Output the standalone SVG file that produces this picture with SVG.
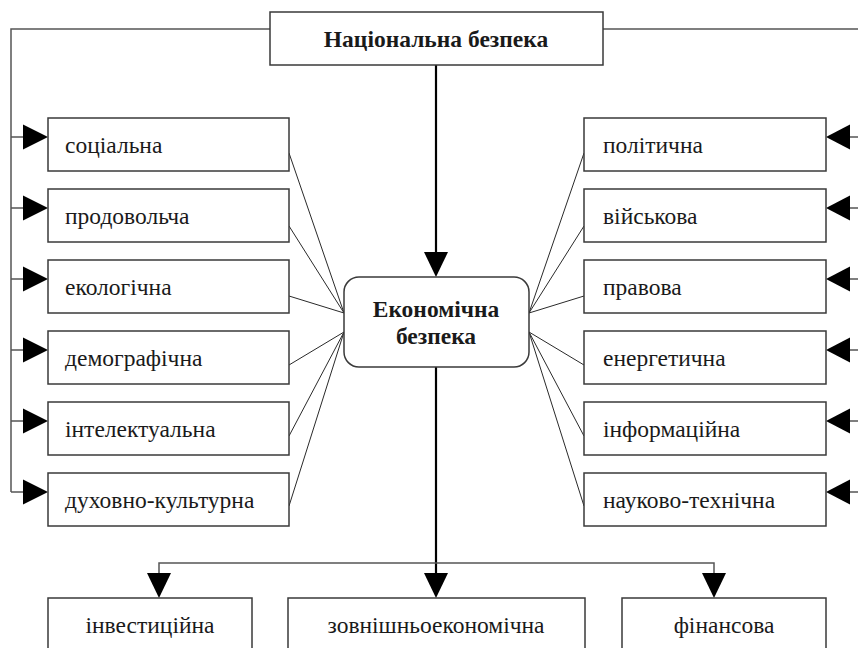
<svg xmlns="http://www.w3.org/2000/svg" width="858" height="648" viewBox="0 0 858 648">
  <style>
    .box { fill: #ffffff; stroke: #3a3a3a; stroke-width: 1.5; }
    .txt { font-family: "Liberation Serif", "Tinos", "Times New Roman", "Noto Serif", "DejaVu Serif", serif; font-size: 23.5px; fill: #1a1a1a; }
    .bold { font-weight: bold; font-size: 23.5px; }
    .feed { fill: none; stroke: #555555; stroke-width: 1.5; }
    .spoke { fill: none; stroke: #2a2a2a; stroke-width: 1; }
    .main { fill: none; stroke: #000000; stroke-width: 2.2; }
    .head { fill: #000000; stroke: none; }
  </style>
  <rect width="858" height="648" fill="#ffffff"/>

  <g id="connectors">
    <!-- feed lines from the top box down both sides -->
    <polyline class="feed" points="270,29 11,29 11,492"/>
    <polyline class="feed" points="603,29 860,29 860,492"/>
    <g class="feed">
      <line x1="11" y1="137" x2="24" y2="137"/>
      <line x1="11" y1="208" x2="24" y2="208"/>
      <line x1="11" y1="279" x2="24" y2="279"/>
      <line x1="11" y1="350" x2="24" y2="350"/>
      <line x1="11" y1="421" x2="24" y2="421"/>
      <line x1="11" y1="492" x2="24" y2="492"/>
      <line x1="849" y1="137" x2="860" y2="137"/>
      <line x1="849" y1="208" x2="860" y2="208"/>
      <line x1="849" y1="279" x2="860" y2="279"/>
      <line x1="849" y1="350" x2="860" y2="350"/>
      <line x1="849" y1="421" x2="860" y2="421"/>
      <line x1="849" y1="492" x2="860" y2="492"/>
    </g>
    <g class="head">
      <polygon points="48,137 23,124.5 23,149.5"/>
      <polygon points="48,208 23,195.5 23,220.5"/>
      <polygon points="48,279 23,266.5 23,291.5"/>
      <polygon points="48,350 23,337.5 23,362.5"/>
      <polygon points="48,421 23,408.5 23,433.5"/>
      <polygon points="48,492 23,479.5 23,504.5"/>
      <polygon points="826,137 850,124.5 850,149.5"/>
      <polygon points="826,208 850,195.5 850,220.5"/>
      <polygon points="826,279 850,266.5 850,291.5"/>
      <polygon points="826,350 850,337.5 850,362.5"/>
      <polygon points="826,421 850,408.5 850,433.5"/>
      <polygon points="826,492 850,479.5 850,504.5"/>
    </g>

    <!-- spokes joining the side boxes to the central box -->
    <g class="spoke">
      <line x1="289" y1="153" x2="344" y2="313"/>
      <line x1="289" y1="226" x2="344" y2="313"/>
      <line x1="289" y1="296" x2="344" y2="313"/>
      <line x1="289" y1="365" x2="344" y2="332"/>
      <line x1="289" y1="436" x2="344" y2="332"/>
      <line x1="289" y1="506" x2="344" y2="332"/>
      <line x1="584" y1="153" x2="529" y2="313"/>
      <line x1="584" y1="226" x2="529" y2="313"/>
      <line x1="584" y1="296" x2="529" y2="313"/>
      <line x1="584" y1="365" x2="529" y2="332"/>
      <line x1="584" y1="436" x2="529" y2="332"/>
      <line x1="584" y1="506" x2="529" y2="332"/>
    </g>

    <!-- main vertical flow -->
    <line class="main" x1="436" y1="65" x2="436" y2="253"/>
    <polygon class="head" points="436,277 424,252 448,252"/>
    <line class="main" x1="436" y1="367" x2="436" y2="574"/>
    <polygon class="head" points="436,598 424,573 448,573"/>

    <!-- branch to the lower boxes -->
    <polyline class="feed" points="159,574 159,563 714,563 714,574"/>
    <polygon class="head" points="159,598 147,573 171,573"/>
    <polygon class="head" points="714,598 702,573 726,573"/>
  </g>

  <g id="national">
    <rect class="box" x="270" y="12" width="333" height="53"/>
    <text class="txt bold" x="436" y="47" text-anchor="middle">Національна безпека</text>
  </g>

  <g id="economic">
    <rect class="box" x="344" y="277" width="185" height="90" rx="15" ry="15"/>
    <text class="txt bold" x="436" y="317" text-anchor="middle">Економічна</text>
    <text class="txt bold" x="436" y="344" text-anchor="middle">безпека</text>
  </g>

  <g id="social">
    <rect class="box" x="48" y="118" width="241" height="53"/>
    <text class="txt" x="65" y="153">соціальна</text>
  </g>
  <g id="food">
    <rect class="box" x="48" y="189" width="241" height="53"/>
    <text class="txt" x="65" y="224">продовольча</text>
  </g>
  <g id="ecological">
    <rect class="box" x="48" y="260" width="241" height="53"/>
    <text class="txt" x="65" y="295">екологічна</text>
  </g>
  <g id="demographic">
    <rect class="box" x="48" y="331" width="241" height="53"/>
    <text class="txt" x="65" y="366">демографічна</text>
  </g>
  <g id="intellectual">
    <rect class="box" x="48" y="402" width="241" height="53"/>
    <text class="txt" x="65" y="437">інтелектуальна</text>
  </g>
  <g id="cultural">
    <rect class="box" x="48" y="473" width="241" height="53"/>
    <text class="txt" x="65" y="508">духовно-культурна</text>
  </g>

  <g id="political">
    <rect class="box" x="584" y="118" width="242" height="53"/>
    <text class="txt" x="603" y="153">політична</text>
  </g>
  <g id="military">
    <rect class="box" x="584" y="189" width="242" height="53"/>
    <text class="txt" x="603" y="224">військова</text>
  </g>
  <g id="legal">
    <rect class="box" x="584" y="260" width="242" height="53"/>
    <text class="txt" x="603" y="295">правова</text>
  </g>
  <g id="energy">
    <rect class="box" x="584" y="331" width="242" height="53"/>
    <text class="txt" x="603" y="366">енергетична</text>
  </g>
  <g id="information">
    <rect class="box" x="584" y="402" width="242" height="53"/>
    <text class="txt" x="603" y="437">інформаційна</text>
  </g>
  <g id="scitech">
    <rect class="box" x="584" y="473" width="242" height="53"/>
    <text class="txt" x="603" y="508">науково-технічна</text>
  </g>

  <g id="investment">
    <rect class="box" x="48" y="598" width="204" height="70"/>
    <text class="txt" x="150" y="633" text-anchor="middle">інвестиційна</text>
  </g>
  <g id="foreign-trade">
    <rect class="box" x="288" y="598" width="297" height="70"/>
    <text class="txt" x="436" y="633" text-anchor="middle">зовнішньоекономічна</text>
  </g>
  <g id="financial">
    <rect class="box" x="622" y="598" width="204" height="70"/>
    <text class="txt" x="724" y="633" text-anchor="middle">фінансова</text>
  </g>
</svg>
